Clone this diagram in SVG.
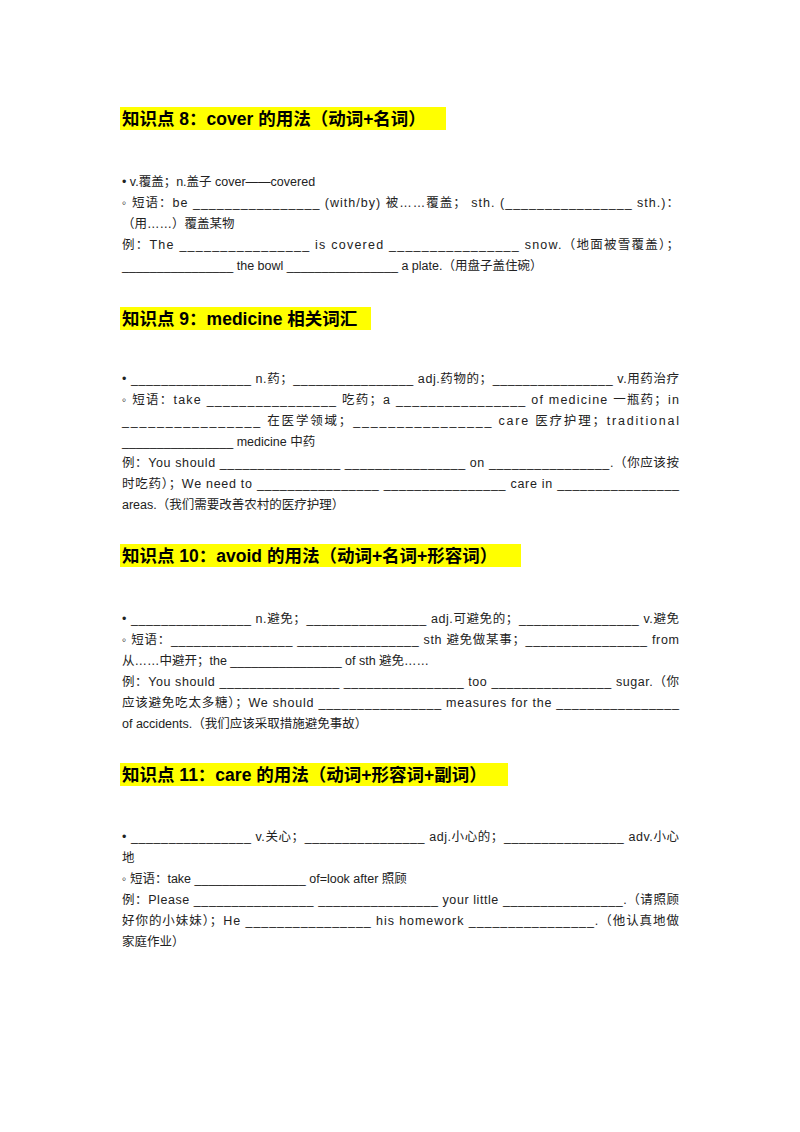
<svg xmlns="http://www.w3.org/2000/svg" width="800" height="1132" viewBox="0 0 800 1132">
<style>
text{font-family:"Liberation Sans","Noto Sans CJK SC",sans-serif;font-size:12.5px;fill:#222}
.h{font-size:17.5px;font-weight:bold;fill:#000}
.hl{fill:#ffff00}
</style>
<rect width="800" height="1132" fill="#fff"/>
<g id="sec8">
<rect class="hl" x="120" y="107" width="326" height="23"/>
<text class="h" x="122" y="125">知识点 8：cover 的用法（动词+名词）</text>
<text x="122" y="186">• v.覆盖；n.盖子 cover——covered</text>
<text x="122" y="207" textLength="557" lengthAdjust="spacing">◦ 短语：be ________________ (with/by) 被……覆盖； sth. (________________ sth.)：</text>
<text x="122" y="228">（用……）覆盖某物</text>
<text x="122" y="249" textLength="557" lengthAdjust="spacing">例：The ________________ is covered ________________ snow.（地面被雪覆盖）；</text>
<text x="122" y="270">________________ the bowl ________________ a plate.（用盘子盖住碗）</text>
</g>
<g id="sec9">
<rect class="hl" x="120" y="307" width="251" height="23"/>
<text class="h" x="122" y="325">知识点 9：medicine 相关词汇</text>
<text x="122" y="383" textLength="557" lengthAdjust="spacing">• ________________ n.药；________________ adj.药物的；________________ v.用药治疗</text>
<text x="122" y="404" textLength="557" lengthAdjust="spacing">◦ 短语：take ________________ 吃药；a ________________ of medicine 一瓶药；in</text>
<text x="122" y="425" textLength="557" lengthAdjust="spacing">________________ 在医学领域；________________ care 医疗护理；traditional</text>
<text x="122" y="446">________________ medicine 中药</text>
<text x="122" y="467" textLength="557" lengthAdjust="spacing">例：You should ________________ ________________ on ________________.（你应该按</text>
<text x="122" y="488" textLength="557" lengthAdjust="spacing">时吃药）；We need to ________________ ________________ care in ________________</text>
<text x="122" y="509">areas.（我们需要改善农村的医疗护理）</text>
</g>
<g id="sec10">
<rect class="hl" x="120" y="544" width="401" height="23"/>
<text class="h" x="122" y="562">知识点 10：avoid 的用法（动词+名词+形容词）</text>
<text x="122" y="623" textLength="557" lengthAdjust="spacing">• ________________ n.避免；________________ adj.可避免的；________________ v.避免</text>
<text x="122" y="644" textLength="557" lengthAdjust="spacing">◦ 短语：________________ ________________ sth 避免做某事；________________ from</text>
<text x="122" y="665">从……中避开；the ________________ of sth 避免……</text>
<text x="122" y="686" textLength="557" lengthAdjust="spacing">例：You should ________________ ________________ too ________________ sugar.（你</text>
<text x="122" y="707" textLength="557" lengthAdjust="spacing">应该避免吃太多糖）；We should ________________ measures for the ________________</text>
<text x="122" y="728">of accidents.（我们应该采取措施避免事故）</text>
</g>
<g id="sec11">
<rect class="hl" x="120" y="763" width="388" height="23"/>
<text class="h" x="122" y="781">知识点 11：care 的用法（动词+形容词+副词）</text>
<text x="122" y="841" textLength="557" lengthAdjust="spacing">• ________________ v.关心；________________ adj.小心的；________________ adv.小心</text>
<text x="122" y="862">地</text>
<text x="122" y="883">◦ 短语：take ________________ of=look after 照顾</text>
<text x="122" y="904" textLength="557" lengthAdjust="spacing">例：Please ________________ ________________ your little ________________.（请照顾</text>
<text x="122" y="925" textLength="557" lengthAdjust="spacing">好你的小妹妹）；He ________________ his homework ________________.（他认真地做</text>
<text x="122" y="946">家庭作业）</text>
</g>
</svg>
